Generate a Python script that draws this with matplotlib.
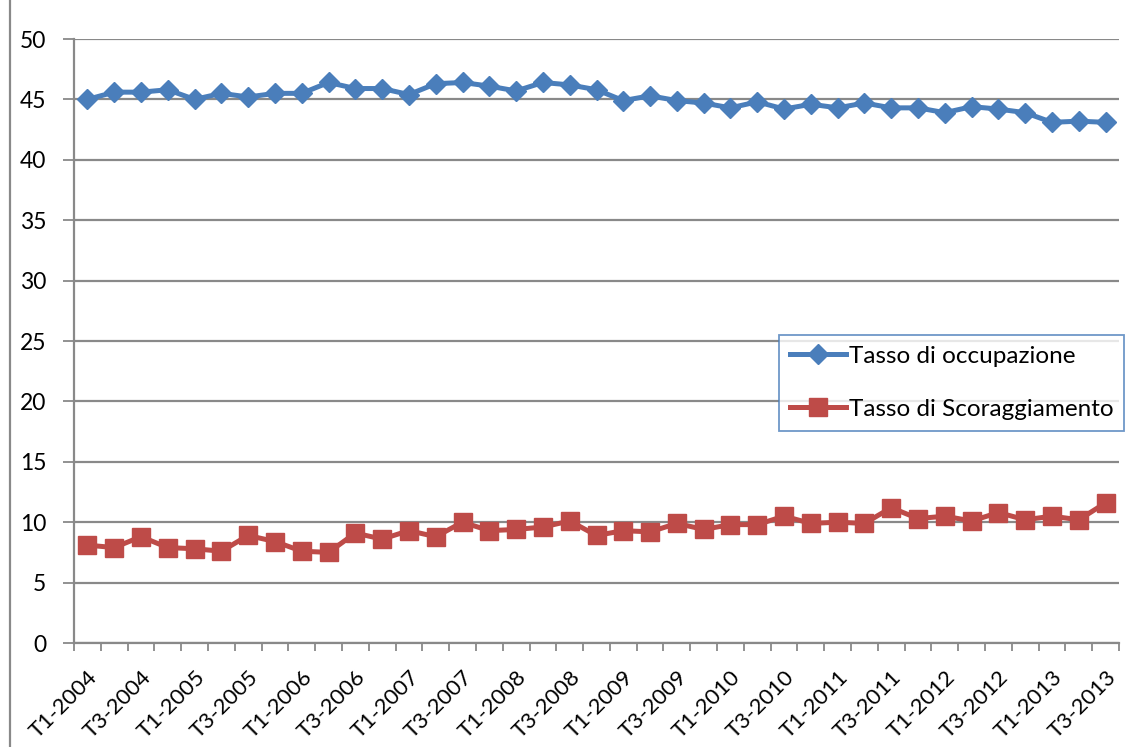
import matplotlib
matplotlib.use("Agg")
import matplotlib.pyplot as plt
from matplotlib.lines import Line2D
from matplotlib.transforms import ScaledTranslation

plt.rcParams['font.family'] = ['Lato', 'DejaVu Sans']

# Quarterly categories T1-2004 ... T3-2013
quarters = [f"T{q}-{y}" for y in range(2004, 2014) for q in (1, 2, 3, 4)][:39]

occupazione = [45.0, 45.6, 45.6, 45.8, 45.0, 45.5, 45.2, 45.5, 45.5, 46.4,
               45.9, 45.9, 45.4, 46.3, 46.4, 46.1, 45.7, 46.4, 46.2, 45.8,
               44.9, 45.3, 44.9, 44.7, 44.3, 44.8, 44.2, 44.6, 44.3, 44.7,
               44.3, 44.3, 43.9, 44.4, 44.2, 43.9, 43.1, 43.2, 43.1]

scoraggiamento = [8.1, 7.9, 8.8, 7.9, 7.8, 7.6, 8.9, 8.4, 7.6, 7.5,
                  9.1, 8.6, 9.3, 8.8, 10.0, 9.3, 9.4, 9.6, 10.1, 8.9,
                  9.3, 9.2, 9.9, 9.4, 9.8, 9.8, 10.5, 9.9, 10.0, 9.9,
                  11.2, 10.3, 10.5, 10.1, 10.8, 10.2, 10.5, 10.2, 11.6]

series_names = ["Tasso di occupazione", "Tasso di Scoraggiamento"]
y_ticks = list(range(0, 51, 5))

BLUE = "#4A7EBB"
RED = "#BE4B48"
GRID = "#898989"

W, H = 1130, 747
fig = plt.figure(figsize=(W / 100, H / 100), dpi=100)
ax = fig.add_axes([74 / W, 1 - 643 / H, (1119 - 74) / W, (643 - 39) / H])

x = list(range(len(quarters)))
ax.plot(x, occupazione, color=BLUE, lw=3.6, marker='D', ms=10.5,
        mfc=BLUE, mec=BLUE, solid_joinstyle='round', zorder=3)
ax.plot(x, scoraggiamento, color=RED, lw=3.6, marker='s', ms=13.5,
        mfc=RED, mec=RED, solid_joinstyle='round', zorder=3)

ax.set_xlim(-0.5, len(quarters) - 0.5)
ax.set_ylim(0, 50)

ax.set_yticks(y_ticks)
ax.set_yticklabels([str(v) for v in y_ticks], fontsize=16.5)
ax.yaxis.grid(True, color=GRID, lw=1.6)
ax.set_axisbelow(True)

# category boundary tick marks, labels on every second quarter
ax.set_xticks([i - 0.5 for i in range(len(quarters) + 1)], minor=False)
ax.set_xticklabels([])
ax.set_xticks(x[::2], minor=True)
labels = ax.set_xticklabels(quarters[::2], minor=True, rotation=45,
                            ha='right', va='top', rotation_mode='anchor',
                            fontsize=16)
shift = ScaledTranslation(4 / 72, 0, fig.dpi_scale_trans)
for lab in labels:
    lab.set_transform(lab.get_transform() + shift)
ax.tick_params(axis='x', which='major', direction='out', length=6,
               width=1.3, color=GRID)
ax.tick_params(axis='x', which='minor', length=0, pad=17)
ax.tick_params(axis='y', direction='out', length=8, width=1.3, color=GRID,
               pad=12)

for side in ('top', 'right'):
    ax.spines[side].set_visible(False)
for side in ('left', 'bottom'):
    ax.spines[side].set_color(GRID)
    ax.spines[side].set_linewidth(1.6)

handles = [
    Line2D([], [], color=BLUE, lw=3.6, marker='D', ms=10.5, mfc=BLUE, mec=BLUE),
    Line2D([], [], color=RED, lw=3.6, marker='s', ms=13.5, mfc=RED, mec=RED),
]
leg = fig.legend(handles, series_names, loc='upper left',
                 bbox_to_anchor=(779 / W, 1 - 335 / H), fontsize=17.5,
                 frameon=True, fancybox=False, handlelength=2.3,
                 handletextpad=0.12, borderpad=0.45, labelspacing=1.3,
                 borderaxespad=0)
leg.get_frame().set_edgecolor(BLUE)
leg.get_frame().set_linewidth(1.3)

# outer chart border on the left
fig.add_artist(Line2D([10 / W, 10 / W], [0, 1], color=GRID, lw=1.6,
                      transform=fig.transFigure))

fig.savefig("out.png", dpi=100)
